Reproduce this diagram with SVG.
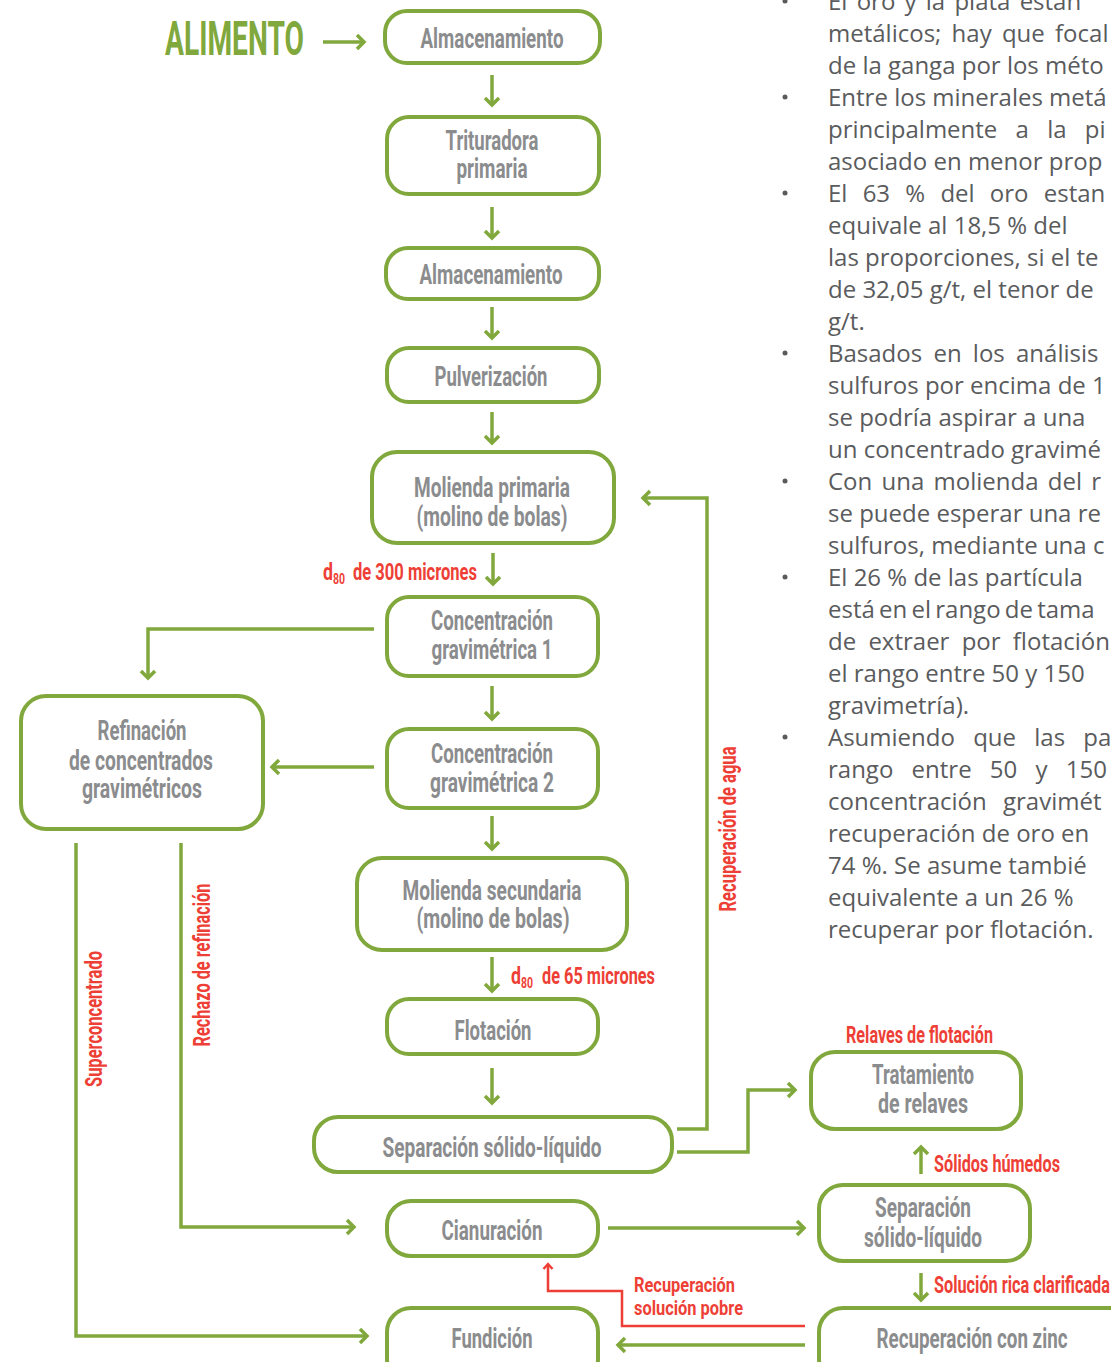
<svg xmlns="http://www.w3.org/2000/svg" width="1111" height="1362" viewBox="0 0 1111 1362">
<style>
.box{fill:#fff;stroke:#80A83C;stroke-width:4}
.lbl{font-family:Roboto,"Liberation Sans",sans-serif;font-size:27px;font-weight:700;fill:#8B8C8E;text-anchor:middle}
.red{font-family:Roboto,"Liberation Sans",sans-serif;font-size:23px;font-weight:700;fill:#EE3F36}
.sm{font-size:21px}
.sub{font-size:15px}
.conn{fill:none;stroke:#80A83C;stroke-width:3.5}
.rconn{fill:none;stroke:#EE3F36;stroke-width:2.5}
.body{font-family:"Open Sans","Noto Sans",sans-serif;font-size:24px;fill:#5A5B5D}
.bul{fill:#5A5B5D}
</style>
<defs>
<marker id="ah" markerUnits="userSpaceOnUse" markerWidth="20" markerHeight="20" viewBox="-10 -10 20 20" refX="0" refY="0" orient="auto">
<path d="M-7,-7 L0,0 L-7,7" fill="none" stroke="#80A83C" stroke-width="3.5"/>
</marker>
<marker id="ahr" markerUnits="userSpaceOnUse" markerWidth="16" markerHeight="16" viewBox="-8 -8 16 16" refX="0" refY="0" orient="auto">
<path d="M-5,-4.5 L0,0 L-5,4.5" fill="none" stroke="#EE3F36" stroke-width="2.5"/>
</marker>
</defs>
<rect width="1111" height="1362" fill="#fff"/>

<g id="alimento">
<text x="165" y="55" font-family="Roboto,'Liberation Sans',sans-serif" font-size="49" font-weight="700" fill="#80A83C" textLength="139" lengthAdjust="spacingAndGlyphs">ALIMENTO</text>
</g>

<g id="connectors">
<path class="conn" d="M323,42 H364" marker-end="url(#ah)"/>
<path class="conn" d="M492,75 V105" marker-end="url(#ah)"/>
<path class="conn" d="M492,207 V238" marker-end="url(#ah)"/>
<path class="conn" d="M492,307 V338" marker-end="url(#ah)"/>
<path class="conn" d="M492,412 V443" marker-end="url(#ah)"/>
<path class="conn" d="M493,553 V584" marker-end="url(#ah)"/>
<path class="conn" d="M492,686 V719" marker-end="url(#ah)"/>
<path class="conn" d="M492,816 V849" marker-end="url(#ah)"/>
<path class="conn" d="M492,957 V991" marker-end="url(#ah)"/>
<path class="conn" d="M492,1068 V1103" marker-end="url(#ah)"/>
<path class="conn" d="M374,629 H148 V678" marker-end="url(#ah)"/>
<path class="conn" d="M374,767 H272" marker-end="url(#ah)"/>
<path class="conn" d="M181,843 V1227 H354" marker-end="url(#ah)"/>
<path class="conn" d="M76,843 V1336 H367" marker-end="url(#ah)"/>
<path class="conn" d="M677,1129 H707 V498 H643" marker-end="url(#ah)"/>
<path class="conn" d="M677,1152 H748 V1090 H795" marker-end="url(#ah)"/>
<path class="conn" d="M608,1228 H804" marker-end="url(#ah)"/>
<path class="conn" d="M921,1174 V1147" marker-end="url(#ah)"/>
<path class="conn" d="M921,1273 V1300" marker-end="url(#ah)"/>
<path class="conn" d="M805,1345 H618" marker-end="url(#ah)"/>
<path class="rconn" d="M805,1326 H622 V1291 H548 V1264" marker-end="url(#ahr)"/>
<text class="red" transform="translate(210,965) rotate(-90)" text-anchor="middle" textLength="163" lengthAdjust="spacingAndGlyphs">Rechazo de refinación</text>
<text class="red" transform="translate(102,1019) rotate(-90)" text-anchor="middle" textLength="136" lengthAdjust="spacingAndGlyphs">Superconcentrado</text>
<text class="red" transform="translate(736,829) rotate(-90)" text-anchor="middle" textLength="165" lengthAdjust="spacingAndGlyphs">Recuperación de agua</text>
<text class="red" x="323" y="580"><tspan textLength="10" lengthAdjust="spacingAndGlyphs">d</tspan><tspan class="sub" dy="4" textLength="12" lengthAdjust="spacingAndGlyphs">80</tspan><tspan x="353" dy="-4" textLength="124" lengthAdjust="spacingAndGlyphs">de 300 micrones</tspan></text>
<text class="red" x="511" y="984"><tspan textLength="10" lengthAdjust="spacingAndGlyphs">d</tspan><tspan class="sub" dy="4" textLength="12" lengthAdjust="spacingAndGlyphs">80</tspan><tspan x="542" dy="-4" textLength="113" lengthAdjust="spacingAndGlyphs">de 65 micrones</tspan></text>
<text class="red" x="846" y="1043" textLength="147" lengthAdjust="spacingAndGlyphs">Relaves de flotación</text>
<text class="red" x="934" y="1172" textLength="126" lengthAdjust="spacingAndGlyphs">Sólidos húmedos</text>
<text class="red" x="934" y="1293" textLength="176" lengthAdjust="spacingAndGlyphs">Solución rica clarificada</text>
<text class="red sm" x="634" y="1292" textLength="101" lengthAdjust="spacingAndGlyphs">Recuperación</text>
<text class="red sm" x="634" y="1315" textLength="109" lengthAdjust="spacingAndGlyphs">solución pobre</text>
</g>

<g id="n1"><rect class="box" x="385" y="11" width="215" height="52" rx="22"/>
<text class="lbl" x="492" y="48" textLength="143" lengthAdjust="spacingAndGlyphs">Almacenamiento</text></g>
<g id="n2"><rect class="box" x="387" y="117" width="212" height="77" rx="22"/>
<text class="lbl" x="492" y="150" textLength="93" lengthAdjust="spacingAndGlyphs">Trituradora</text>
<text class="lbl" x="492" y="178" textLength="71" lengthAdjust="spacingAndGlyphs">primaria</text></g>
<g id="n3"><rect class="box" x="386" y="248" width="213" height="51" rx="22"/>
<text class="lbl" x="491" y="284" textLength="143" lengthAdjust="spacingAndGlyphs">Almacenamiento</text></g>
<g id="n4"><rect class="box" x="387" y="348" width="212" height="54" rx="22"/>
<text class="lbl" x="491" y="386" textLength="113" lengthAdjust="spacingAndGlyphs">Pulverización</text></g>
<g id="n5"><rect class="box" x="372" y="452" width="242" height="91" rx="25"/>
<text class="lbl" x="492" y="497" textLength="156" lengthAdjust="spacingAndGlyphs">Molienda primaria</text>
<text class="lbl" x="492" y="526" textLength="151" lengthAdjust="spacingAndGlyphs">(molino de bolas)</text></g>
<g id="n6"><rect class="box" x="387" y="597" width="211" height="79" rx="22"/>
<text class="lbl" x="492" y="630" textLength="122" lengthAdjust="spacingAndGlyphs">Concentración</text>
<text class="lbl" x="492" y="659" textLength="121" lengthAdjust="spacingAndGlyphs">gravimétrica 1</text></g>
<g id="n7"><rect class="box" x="387" y="729" width="211" height="79" rx="22"/>
<text class="lbl" x="492" y="763" textLength="122" lengthAdjust="spacingAndGlyphs">Concentración</text>
<text class="lbl" x="492" y="792" textLength="124" lengthAdjust="spacingAndGlyphs">gravimétrica 2</text></g>
<g id="n8"><rect class="box" x="21" y="696" width="242" height="133" rx="25"/>
<text class="lbl" x="142" y="740" textLength="89" lengthAdjust="spacingAndGlyphs">Refinación</text>
<text class="lbl" x="141" y="770" textLength="144" lengthAdjust="spacingAndGlyphs">de concentrados</text>
<text class="lbl" x="142" y="798" textLength="120" lengthAdjust="spacingAndGlyphs">gravimétricos</text></g>
<g id="n9"><rect class="box" x="357" y="858" width="270" height="92" rx="25"/>
<text class="lbl" x="492" y="900" textLength="179" lengthAdjust="spacingAndGlyphs">Molienda secundaria</text>
<text class="lbl" x="493" y="928" textLength="153" lengthAdjust="spacingAndGlyphs">(molino de bolas)</text></g>
<g id="n10"><rect class="box" x="387" y="999" width="211" height="55" rx="22"/>
<text class="lbl" x="493" y="1040" textLength="77" lengthAdjust="spacingAndGlyphs">Flotación</text></g>
<g id="n11"><rect class="box" x="314" y="1117" width="358" height="55" rx="24"/>
<text class="lbl" x="492" y="1157" textLength="219" lengthAdjust="spacingAndGlyphs">Separación sólido-líquido</text></g>
<g id="n12"><rect class="box" x="387" y="1201" width="211" height="55" rx="24"/>
<text class="lbl" x="492" y="1240" textLength="101" lengthAdjust="spacingAndGlyphs">Cianuración</text></g>
<g id="n13"><rect class="box" x="387" y="1308" width="211" height="75" rx="24"/>
<text class="lbl" x="492" y="1348" textLength="81" lengthAdjust="spacingAndGlyphs">Fundición</text></g>
<g id="n14"><rect class="box" x="811" y="1052" width="210" height="77" rx="24"/>
<text class="lbl" x="923" y="1084" textLength="102" lengthAdjust="spacingAndGlyphs">Tratamiento</text>
<text class="lbl" x="923" y="1113" textLength="90" lengthAdjust="spacingAndGlyphs">de relaves</text></g>
<g id="n15"><rect class="box" x="819" y="1185" width="211" height="76" rx="24"/>
<text class="lbl" x="923" y="1217" textLength="96" lengthAdjust="spacingAndGlyphs">Separación</text>
<text class="lbl" x="923" y="1247" textLength="118" lengthAdjust="spacingAndGlyphs">sólido-líquido</text></g>
<g id="n16"><rect class="box" x="819" y="1308" width="320" height="75" rx="24"/>
<text class="lbl" x="972" y="1348" textLength="191" lengthAdjust="spacingAndGlyphs">Recuperación con zinc</text></g>

<g id="notes" class="body">
<circle class="bul" cx="785" cy="1" r="2.5"/>
<circle class="bul" cx="785" cy="97" r="2.5"/>
<circle class="bul" cx="785" cy="193" r="2.5"/>
<circle class="bul" cx="785" cy="353" r="2.5"/>
<circle class="bul" cx="785" cy="481" r="2.5"/>
<circle class="bul" cx="785" cy="577" r="2.5"/>
<circle class="bul" cx="785" cy="737" r="2.5"/>
<text x="828" y="10" word-spacing="3">El oro y la plata están</text>
<text x="828" y="42" word-spacing="4">metálicos; hay que focal</text>
<text x="828" y="74">de la ganga por los méto</text>
<text x="828" y="106">Entre los minerales metá</text>
<text x="828" y="138" word-spacing="12">principalmente a la pi</text>
<text x="828" y="170">asociado en menor prop</text>
<text x="828" y="202" word-spacing="9">El 63 % del oro estan</text>
<text x="828" y="234">equivale al 18,5 % del</text>
<text x="828" y="266">las proporciones, si el te</text>
<text x="828" y="298">de 32,05 g/t, el tenor de</text>
<text x="828" y="330">g/t.</text>
<text x="828" y="362" word-spacing="5">Basados en los análisis</text>
<text x="828" y="394">sulfuros por encima de 1</text>
<text x="828" y="426">se podría aspirar a una</text>
<text x="828" y="458">un concentrado gravimé</text>
<text x="828" y="490" word-spacing="3">Con una molienda del r</text>
<text x="828" y="522">se puede esperar una re</text>
<text x="828" y="554">sulfuros, mediante una c</text>
<text x="828" y="586">El 26 % de las partícula</text>
<text x="828" y="618" word-spacing="-2">está en el rango de tama</text>
<text x="828" y="650" word-spacing="6">de extraer por flotación</text>
<text x="828" y="682">el rango entre 50 y 150</text>
<text x="828" y="714">gravimetría).</text>
<text x="828" y="746" word-spacing="12">Asumiendo que las pa</text>
<text x="828" y="778" word-spacing="12">rango entre 50 y 150</text>
<text x="828" y="810" word-spacing="10">concentración gravimét</text>
<text x="828" y="842">recuperación de oro en</text>
<text x="828" y="874">74 %. Se asume tambié</text>
<text x="828" y="906">equivalente a un 26 %</text>
<text x="828" y="938">recuperar por flotación.</text>
</g>
</svg>
